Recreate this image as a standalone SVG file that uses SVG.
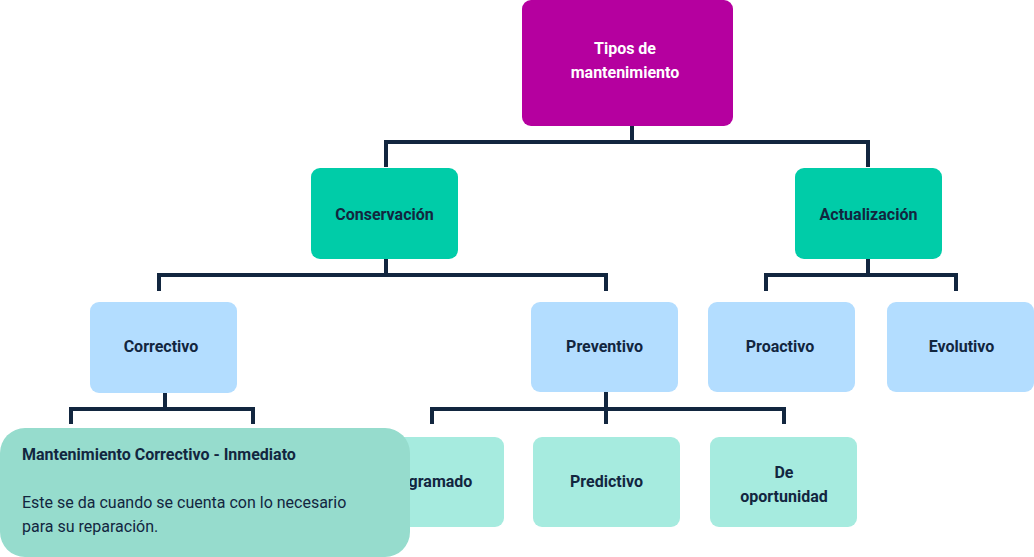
<svg xmlns="http://www.w3.org/2000/svg" width="1034" height="557" viewBox="0 0 1034 557">
<style>
.lbl{font-family:Roboto,"Liberation Sans",sans-serif;font-size:16px;font-weight:700;fill:#12263f;text-anchor:middle}
.wht{fill:#ffffff}
.conn path{fill:none;stroke:#12263f;stroke-width:4;stroke-linejoin:miter;stroke-linecap:butt}
.root{fill:#b5009f}
.l1{fill:#00cca8}
.l2{fill:#b3ddff}
.l3{fill:#a6ebdf}
.tip{fill:#96dccd}
.tt{font-family:Roboto,"Liberation Sans",sans-serif;font-size:16px;font-weight:700;fill:#12263f}
.tb{font-family:Roboto,"Liberation Sans",sans-serif;font-size:16px;font-weight:400;fill:#12263f}
</style>
<rect width="1034" height="557" fill="#ffffff"/>
<g class="conn" id="connectors">
<path d="M632,126 V142"/>
<path d="M386,167 V142 H868 V167"/>
<path d="M386,259 V275"/>
<path d="M159,291 V275 H606 V291"/>
<path d="M868,259 V275"/>
<path d="M766,291 V275 H956 V291"/>
<path d="M165,392 V409"/>
<path d="M71,424 V409 H253 V424"/>
<path d="M606,392 V424"/>
<path d="M432,424 V409 H784 V424"/>
</g>
<g id="n-root"><rect class="root" x="522" y="0" width="211" height="126" rx="9"/><text class="lbl wht" x="625" y="54">Tipos de</text><text class="lbl wht" x="625" y="78">mantenimiento</text></g>
<g id="n-conservacion"><rect class="l1" x="311" y="168" width="147" height="91" rx="9"/><text class="lbl" x="384.5" y="220">Conservación</text></g>
<g id="n-actualizacion"><rect class="l1" x="795" y="168" width="147" height="91" rx="9"/><text class="lbl" x="868.5" y="220">Actualización</text></g>
<g id="n-correctivo"><rect class="l2" x="90" y="302" width="147" height="91" rx="9"/><text class="lbl" x="161" y="352">Correctivo</text></g>
<g id="n-preventivo"><rect class="l2" x="531" y="302" width="147" height="90" rx="9"/><text class="lbl" x="604.5" y="352">Preventivo</text></g>
<g id="n-proactivo"><rect class="l2" x="708" y="302" width="147" height="90" rx="9"/><text class="lbl" x="780" y="352">Proactivo</text></g>
<g id="n-evolutivo"><rect class="l2" x="887" y="302" width="147" height="90" rx="9"/><text class="lbl" x="961.5" y="352">Evolutivo</text></g>
<g id="n-programado"><rect class="l3" x="357" y="437" width="147" height="90" rx="9"/><text class="lbl" x="428" y="487">Programado</text></g>
<g id="n-predictivo"><rect class="l3" x="533" y="437" width="147" height="90" rx="9"/><text class="lbl" x="606.5" y="487">Predictivo</text></g>
<g id="n-oportunidad"><rect class="l3" x="710" y="437" width="147" height="90" rx="9"/><text class="lbl" x="784" y="478">De</text><text class="lbl" x="784" y="502">oportunidad</text></g>
<g id="tooltip"><rect class="tip" x="0" y="428" width="410" height="129" rx="25"/><text class="tt" x="22" y="460">Mantenimiento Correctivo - Inmediato</text><text class="tb" x="22" y="508">Este se da cuando se cuenta con lo necesario</text><text class="tb" x="22" y="532">para su reparación.</text></g>
</svg>
